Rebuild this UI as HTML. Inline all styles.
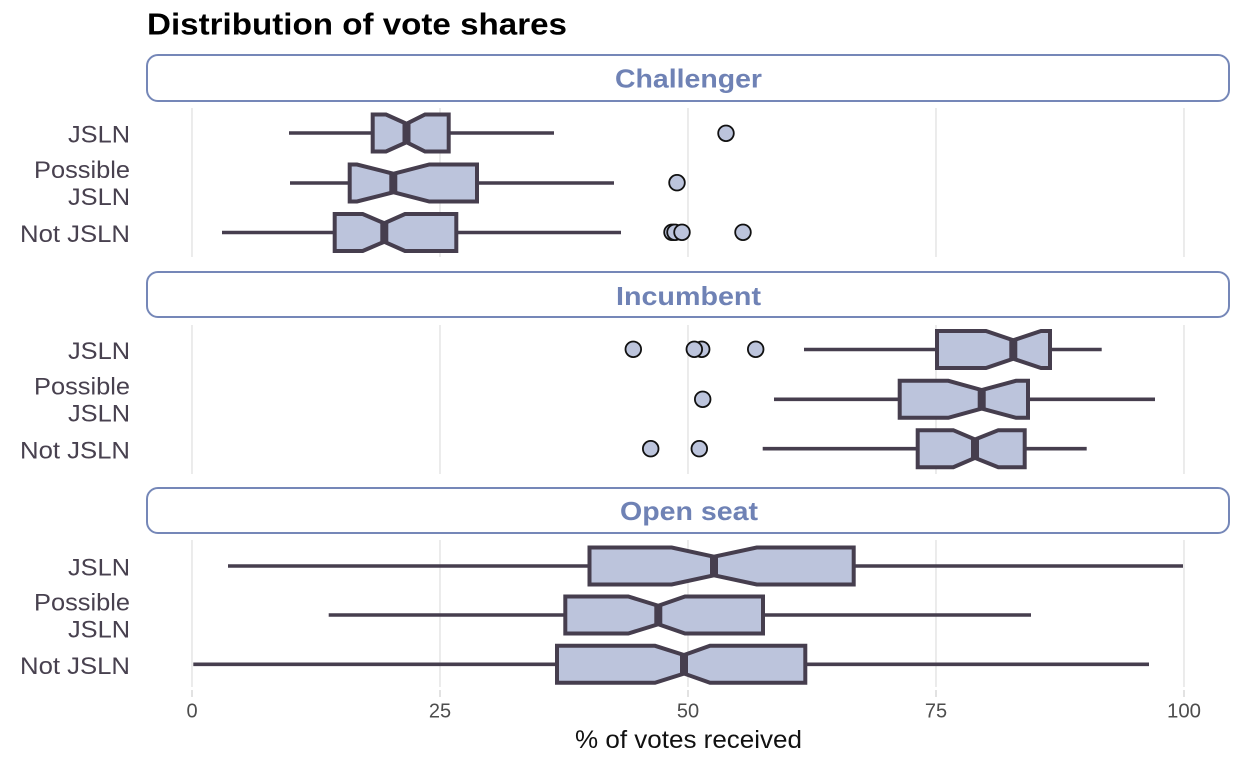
<!DOCTYPE html>
<html>
<head>
<meta charset="utf-8">
<style>
html,body{margin:0;padding:0;background:#fff;}
svg{display:block;}
text{font-family:"Liberation Sans",Arial,sans-serif;}
</style>
</head>
<body>
<svg width="1246" height="764" viewBox="0 0 1246 764" xmlns="http://www.w3.org/2000/svg">
<rect x="0" y="0" width="1246" height="764" fill="#fff"/>

<!-- Title -->
<text x="147" y="34.5" font-size="31" font-weight="bold" fill="#000" textLength="420" lengthAdjust="spacingAndGlyphs">Distribution of vote shares</text>

<!-- Strips -->
<g fill="#fff" stroke="#7587b8" stroke-width="2">
<rect x="147" y="55" width="1082" height="46" rx="11" ry="11"/>
<rect x="147" y="272" width="1082" height="45" rx="11" ry="11"/>
<rect x="147" y="488" width="1082" height="45" rx="11" ry="11"/>
</g>
<g font-size="26" font-weight="bold" fill="#6f82b5" text-anchor="middle">
<text x="688.5" y="87.5" textLength="147" lengthAdjust="spacingAndGlyphs">Challenger</text>
<text x="688.5" y="305" textLength="145" lengthAdjust="spacingAndGlyphs">Incumbent</text>
<text x="689" y="520" textLength="138" lengthAdjust="spacingAndGlyphs">Open seat</text>
</g>

<!-- Gridlines -->
<g stroke="#dedede" stroke-width="1.2">
<line x1="192" y1="108" x2="192" y2="257"/><line x1="440" y1="108" x2="440" y2="257"/><line x1="688" y1="108" x2="688" y2="257"/><line x1="936" y1="108" x2="936" y2="257"/><line x1="1184" y1="108" x2="1184" y2="257"/>
<line x1="192" y1="325" x2="192" y2="474"/><line x1="440" y1="325" x2="440" y2="474"/><line x1="688" y1="325" x2="688" y2="474"/><line x1="936" y1="325" x2="936" y2="474"/><line x1="1184" y1="325" x2="1184" y2="474"/>
<line x1="192" y1="540" x2="192" y2="687"/><line x1="440" y1="540" x2="440" y2="687"/><line x1="688" y1="540" x2="688" y2="687"/><line x1="936" y1="540" x2="936" y2="687"/><line x1="1184" y1="540" x2="1184" y2="687"/>
</g>
<!-- ticks -->
<g stroke="#cfcfcf" stroke-width="1.2">
<line x1="192" y1="690" x2="192" y2="697"/><line x1="440" y1="690" x2="440" y2="697"/><line x1="688" y1="690" x2="688" y2="697"/><line x1="936" y1="690" x2="936" y2="697"/><line x1="1184" y1="690" x2="1184" y2="697"/>
</g>
<g font-size="20" fill="#4d4d4d" text-anchor="middle">
<text x="192" y="717.5">0</text>
<text x="440" y="717.5">25</text>
<text x="688" y="717.5">50</text>
<text x="936" y="717.5">75</text>
<text x="1184" y="717.5" textLength="34" lengthAdjust="spacingAndGlyphs">100</text>
</g>
<text x="688.5" y="748" font-size="25" fill="#111" text-anchor="middle" textLength="227" lengthAdjust="spacingAndGlyphs">% of votes received</text>

<!-- Y labels -->
<g font-size="24" fill="#48414f" text-anchor="end">
<text x="130" y="142.5" textLength="62" lengthAdjust="spacingAndGlyphs">JSLN</text>
<text x="130" y="178" textLength="96" lengthAdjust="spacingAndGlyphs">Possible</text>
<text x="130" y="205" textLength="62" lengthAdjust="spacingAndGlyphs">JSLN</text>
<text x="130" y="242" textLength="110" lengthAdjust="spacingAndGlyphs">Not JSLN</text>

<text x="130" y="359" textLength="62" lengthAdjust="spacingAndGlyphs">JSLN</text>
<text x="130" y="394.5" textLength="96" lengthAdjust="spacingAndGlyphs">Possible</text>
<text x="130" y="421.5" textLength="62" lengthAdjust="spacingAndGlyphs">JSLN</text>
<text x="130" y="458.5" textLength="110" lengthAdjust="spacingAndGlyphs">Not JSLN</text>

<text x="130" y="575.5" textLength="62" lengthAdjust="spacingAndGlyphs">JSLN</text>
<text x="130" y="610.5" textLength="96" lengthAdjust="spacingAndGlyphs">Possible</text>
<text x="130" y="637.5" textLength="62" lengthAdjust="spacingAndGlyphs">JSLN</text>
<text x="130" y="674" textLength="110" lengthAdjust="spacingAndGlyphs">Not JSLN</text>
</g>

<!-- Whiskers -->
<g stroke="#463e4e" stroke-width="3.6" stroke-linecap="butt">
<!-- Panel 1 -->
<line x1="289" y1="133" x2="372.7" y2="133"/><line x1="448.7" y1="133" x2="554" y2="133"/>
<line x1="290" y1="183" x2="349.7" y2="183"/><line x1="477" y1="183" x2="614" y2="183"/>
<line x1="222" y1="232.5" x2="334.7" y2="232.5"/><line x1="456.3" y1="232.5" x2="621" y2="232.5"/>
<!-- Panel 2 -->
<line x1="804" y1="349.5" x2="937" y2="349.5"/><line x1="1050" y1="349.5" x2="1101.7" y2="349.5"/>
<line x1="774" y1="399.3" x2="899.7" y2="399.3"/><line x1="1028" y1="399.3" x2="1155" y2="399.3"/>
<line x1="762.7" y1="448.7" x2="917.7" y2="448.7"/><line x1="1024.7" y1="448.7" x2="1086.7" y2="448.7"/>
<!-- Panel 3 -->
<line x1="228" y1="566" x2="589.5" y2="566"/><line x1="853.7" y1="566" x2="1183" y2="566"/>
<line x1="328.7" y1="615" x2="565.3" y2="615"/><line x1="763" y1="615" x2="1031" y2="615"/>
<line x1="193.3" y1="664.3" x2="557" y2="664.3"/><line x1="805.3" y1="664.3" x2="1149" y2="664.3"/>
</g>

<!-- Boxes -->
<g fill="#bcc4dc" stroke="#463e4e" stroke-width="4" stroke-linejoin="miter">
<!-- Panel 1 JSLN y=133 -->
<polygon points="372.7,114.5 386,114.5 406.5,123.75 425,114.5 448.7,114.5 448.7,151.5 425,151.5 406.5,142.25 386,151.5 372.7,151.5"/>
<!-- Possible y=183 -->
<polygon points="349.7,164.5 357,164.5 393.3,173.75 429.3,164.5 477,164.5 477,201.5 429.3,201.5 393.3,192.25 357,201.5 349.7,201.5"/>
<!-- Not y=232.5 -->
<polygon points="334.7,214 362.7,214 384.3,223.25 405,214 456.3,214 456.3,251 405,251 384.3,241.75 362.7,251 334.7,251"/>
<!-- Panel 2 JSLN y=349.5 -->
<polygon points="937,331 986,331 1013.3,340.25 1041,331 1050,331 1050,368 1041,368 1013.3,358.75 986,368 937,368"/>
<!-- Possible y=399.3 -->
<polygon points="899.7,380.8 948.3,380.8 981.7,390.05 1016,380.8 1028,380.8 1028,417.8 1016,417.8 981.7,408.55 948.3,417.8 899.7,417.8"/>
<!-- Not y=448.7 -->
<polygon points="917.7,430.2 953.3,430.2 975,439.45 998.3,430.2 1024.7,430.2 1024.7,467.2 998.3,467.2 975,457.95 953.3,467.2 917.7,467.2"/>
<!-- Panel 3 JSLN y=566 -->
<polygon points="589.5,547.5 671.7,547.5 714,556.75 756.7,547.5 853.7,547.5 853.7,584.5 756.7,584.5 714,575.25 671.7,584.5 589.5,584.5"/>
<!-- Possible y=615 -->
<polygon points="565.3,596.5 628.3,596.5 658.3,605.75 685,596.5 763,596.5 763,633.5 685,633.5 658.3,624.25 628.3,633.5 565.3,633.5"/>
<!-- Not y=664.3 -->
<polygon points="557,645.8 655,645.8 684,655.05 710,645.8 805.3,645.8 805.3,682.8 710,682.8 684,673.55 655,682.8 557,682.8"/>
</g>

<!-- Medians -->
<g stroke="#463e4e" stroke-width="8">
<line x1="406.5" y1="122" x2="406.5" y2="144"/>
<line x1="393.3" y1="172" x2="393.3" y2="194"/>
<line x1="384.3" y1="221.5" x2="384.3" y2="243.5"/>
<line x1="1013.3" y1="338.5" x2="1013.3" y2="360.5"/>
<line x1="981.7" y1="388.3" x2="981.7" y2="410.3"/>
<line x1="975" y1="437.7" x2="975" y2="459.7"/>
<line x1="714" y1="555" x2="714" y2="577"/>
<line x1="658.3" y1="604" x2="658.3" y2="626"/>
<line x1="684" y1="653.3" x2="684" y2="675.3"/>
</g>

<!-- Outliers -->
<g fill="#bcc4dc" stroke="#111" stroke-width="1.8">
<circle cx="726" cy="133.3" r="7.8"/>
<circle cx="677" cy="182.7" r="7.8"/>
<circle cx="672" cy="232.3" r="7.8"/>
<circle cx="675" cy="232.3" r="7.8"/>
<circle cx="682" cy="232.3" r="7.8"/>
<circle cx="743" cy="232.3" r="7.8"/>

<circle cx="633.3" cy="349.3" r="7.8"/>
<circle cx="701.7" cy="349.3" r="7.8"/>
<circle cx="694.3" cy="349.3" r="7.8"/>
<circle cx="755.7" cy="349.3" r="7.8"/>
<circle cx="702.7" cy="399.3" r="7.8"/>
<circle cx="650.7" cy="448.7" r="7.8"/>
<circle cx="699.3" cy="448.7" r="7.8"/>
</g>
</svg>
</body>
</html>
